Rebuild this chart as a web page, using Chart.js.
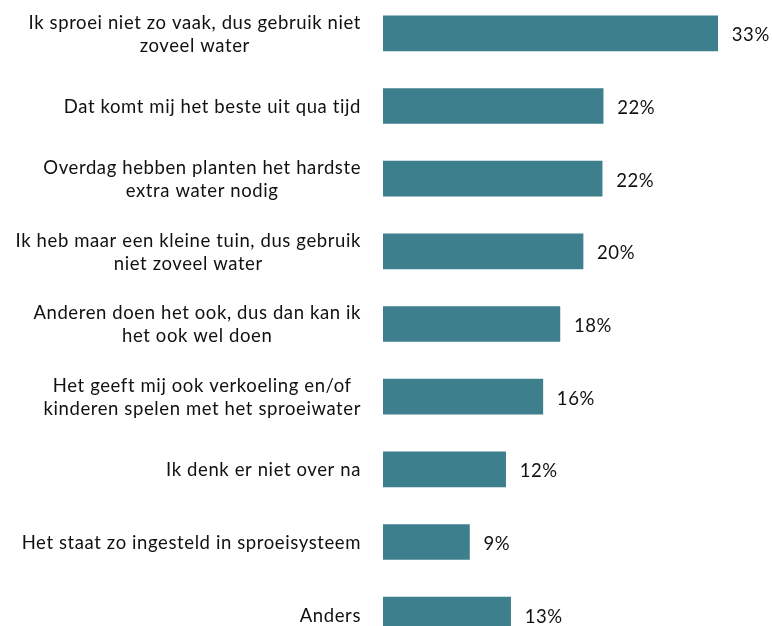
<!DOCTYPE html>
<html>
<head>
<meta charset="utf-8">
<script src="https://cdn.jsdelivr.net/npm/chart.js@4"></script>
<style>
  html, body { margin: 0; padding: 0; background: #fff; overflow: hidden; width: 772px; height: 626px; }
  #wrap { position: absolute; left: 0; top: -3px; width: 772px; height: 654px; }
</style>
</head>
<body>
<div id="wrap"><canvas id="c"></canvas></div>
<script>
const categories = [
  ["Ik sproei niet zo vaak, dus gebruik niet", "zoveel water"],
  ["Dat komt mij het beste uit qua tijd"],
  ["Overdag hebben planten het hardste", "extra water nodig"],
  ["Ik heb maar een kleine tuin, dus gebruik", "niet zoveel water"],
  ["Anderen doen het ook, dus dan kan ik", "het ook wel doen"],
  ["Het geeft mij ook verkoeling en/of", "kinderen spelen met het sproeiwater"],
  ["Ik denk er niet over na"],
  ["Het staat zo ingesteld in sproeisysteem"],
  ["Anders"]
];
const values = [33.3, 21.9, 21.8, 19.9, 17.6, 15.9, 12.2, 8.6, 12.7];
const valueLabels = ["33%", "22%", "22%", "20%", "18%", "16%", "12%", "9%", "13%"];

const FONT = '18.5px Lato, "Open Sans", sans-serif';
const TEXT = '#111111';

const labelPlugin = {
  id: 'customLabels',
  afterDatasetsDraw(chart) {
    const ctx = chart.ctx;
    const yScale = chart.scales.y;
    const meta = chart.getDatasetMeta(0);
    ctx.save();
    ctx.font = FONT;
    if ('letterSpacing' in ctx) ctx.letterSpacing = '0.6px';
    ctx.fillStyle = TEXT;
    ctx.textBaseline = 'middle';
    const lineH = 23;
    const rightEdge = chart.chartArea.left - 22;
    categories.forEach((lines, i) => {
      const yc = yScale.getPixelForValue(i) + 1;
      let w = 0;
      lines.forEach(l => { w = Math.max(w, ctx.measureText(l).width); });
      const cx = rightEdge - w / 2;
      ctx.textAlign = 'center';
      const y0 = yc - (lines.length - 1) * lineH / 2;
      lines.forEach((l, k) => ctx.fillText(l, cx, y0 + k * lineH));
      const bar = meta.data[i];
      ctx.textAlign = 'left';
      ctx.fillText(valueLabels[i], bar.x + 14, yc + 1);
    });
    ctx.restore();
  }
};

new Chart(document.getElementById('c'), {
  type: 'bar',
  data: {
    labels: categories,
    datasets: [{
      data: values,
      backgroundColor: '#3d7f8c',
      borderWidth: 0,
      barThickness: 35
    }]
  },
  options: {
    indexAxis: 'y',
    responsive: true,
    maintainAspectRatio: false,
    animation: false,
    layout: { padding: { left: 383, right: 0, top: 0, bottom: 0 } },
    plugins: { legend: { display: false }, tooltip: { enabled: false } },
    scales: {
      x: { display: false, min: 0, max: 38.7 },
      y: { display: false }
    }
  },
  plugins: [labelPlugin]
});
</script>
</body>
</html>
